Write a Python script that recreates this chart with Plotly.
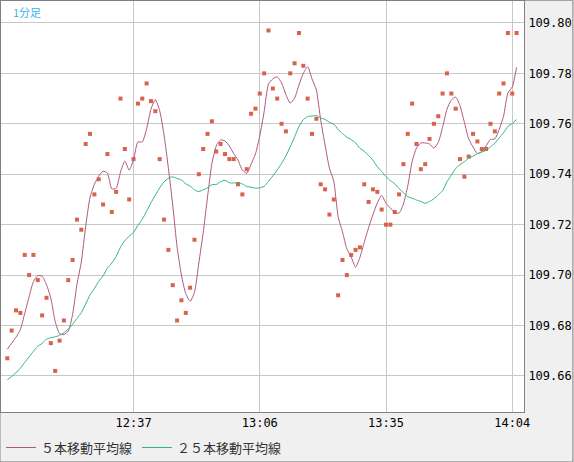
import plotly.graph_objects as go
import pandas as pd

# 1-minute closes, 12:08 .. 14:05
closes = [
    109.667, 109.678, 109.686, 109.685, 109.708, 109.700, 109.708, 109.698, 109.684, 109.691,
    109.673, 109.662, 109.674, 109.682, 109.698, 109.706, 109.722, 109.718, 109.752, 109.756,
    109.732, 109.738, 109.728, 109.748, 109.725, 109.733, 109.770, 109.750, 109.730, 109.746,
    109.768, 109.770, 109.776, 109.769, 109.765, 109.746, 109.722, 109.710, 109.696, 109.682,
    109.690, 109.685, 109.695, 109.714, 109.740, 109.750, 109.756, 109.761, 109.749, 109.752,
    109.748, 109.746, 109.746, 109.736, 109.732, 109.742, 109.764, 109.766, 109.772, 109.780,
    109.797, 109.774, 109.770, 109.760, 109.757, 109.780, 109.784, 109.796, 109.783, 109.770,
    109.756, 109.762, 109.736, 109.734, 109.724, 109.730, 109.692, 109.706, 109.700, 109.708,
    109.710, 109.711, 109.736, 109.729, 109.734, 109.733, 109.726, 109.720, 109.720, 109.725,
    109.732, 109.744, 109.756, 109.768, 109.752, 109.742, 109.744, 109.754, 109.760, 109.763,
    109.772, 109.780, 109.772, 109.766, 109.746, 109.739, 109.747, 109.756, 109.753, 109.750,
    109.750, 109.760, 109.757, 109.772, 109.776, 109.796, 109.772, 109.796,
]
# closes before the visible window (needed for the moving averages)
history = [
    109.645, 109.648, 109.642, 109.650, 109.646, 109.652, 109.648, 109.655, 109.650, 109.658,
    109.653, 109.660, 109.656, 109.662, 109.658, 109.664, 109.660, 109.668, 109.664, 109.670,
    109.666, 109.674, 109.670, 109.676,
]
tick_pos = [29, 58, 87, 116]
tick_text = ['12:37', '13:06', '13:35', '14:04']
y_ticks = [109.66, 109.68, 109.70, 109.72, 109.74, 109.76, 109.78, 109.80]

s = pd.Series(history + closes)
ma5 = s.rolling(5, min_periods=1).mean().tolist()[len(history):]
ma25 = s.rolling(25, min_periods=1).mean().tolist()[len(history):]
x = list(range(len(closes)))

fig = go.Figure()

fig.add_trace(go.Scatter(
    x=x, y=closes, mode='markers', showlegend=False,
    marker=dict(symbol='square', size=4, color='#d8624a')
))
fig.add_trace(go.Scatter(
    x=x, y=ma5, mode='lines', name='５本移動平均線',
    line=dict(color='#b0587f', width=1, shape='spline', smoothing=0.6)
))
fig.add_trace(go.Scatter(
    x=x, y=ma25, mode='lines', name='２５本移動平均線',
    line=dict(color='#2db87a', width=1, shape='spline', smoothing=0.6)
))

fig.add_annotation(
    text='1分足', xref='paper', yref='paper', x=0.02, y=0.998,
    xanchor='left', yanchor='top', showarrow=False,
    font=dict(family='Noto Sans CJK JP', size=11, color='#3cb4e8')
)

fig.update_layout(
    width=574,
    height=462,
    paper_bgcolor='#f0f0f0',
    plot_bgcolor='#ffffff',
    margin=dict(l=1, r=50, t=1, b=50, autoexpand=False),
    legend=dict(
        orientation='h', x=0.0, y=-0.05, xanchor='left', yanchor='top',
        font=dict(family='Noto Sans CJK JP', size=13, color='#333333'),
        bgcolor='rgba(0,0,0,0)'
    ),
    xaxis=dict(
        range=[-1.45, 118.7],
        tickvals=tick_pos,
        ticktext=tick_text,
        showgrid=True,
        gridcolor='#c8c8c8',
        zeroline=False,
        showline=True,
        linecolor='#808080',
        mirror=True,
        ticks='',
        automargin=False,
        tickfont=dict(family='DejaVu Sans Mono', size=12, color='#000000')
    ),
    yaxis=dict(
        side='right',
        range=[109.6457, 109.8087],
        tickvals=y_ticks,
        tickformat='.2f',
        showgrid=True,
        gridcolor='#c8c8c8',
        zeroline=False,
        showline=True,
        linecolor='#808080',
        mirror=True,
        ticks='',
        automargin=False,
        ticklabelstandoff=1,
        tickfont=dict(family='DejaVu Sans Mono', size=12, color='#000000')
    ),
    shapes=[dict(
        type='rect', xref='paper', yref='paper', x0=-0.002, x1=1.0935, y0=-0.1215, y1=1.002,
        line=dict(color='#808080', width=1)
    )]
)

fig.write_html("out.html", config={'displayModeBar': False},
               post_script="document.body.style.margin='0';")
